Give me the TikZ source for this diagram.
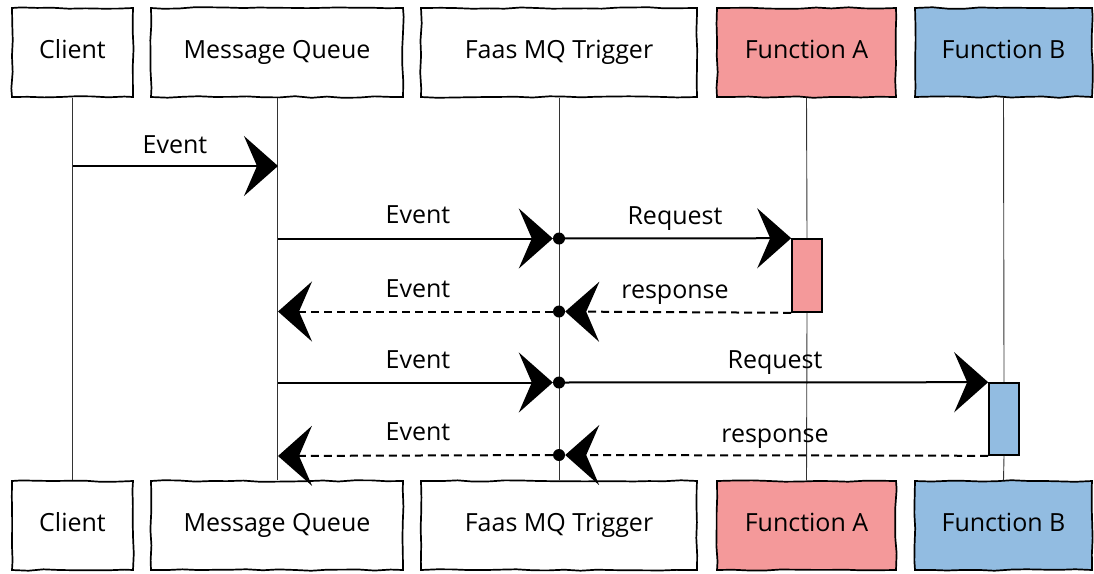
\documentclass[tikz,border=0pt]{standalone}
\usepackage{fontspec}
\setmainfont{Open Sans}
\usetikzlibrary{arrows.meta,decorations.pathmorphing}
\definecolor{funcA}{RGB}{244,153,154}
\definecolor{funcB}{RGB}{146,188,225}
\tikzset{
  sketch/.style={decorate, decoration={random steps, segment length=16pt, amplitude=0.8pt}},
  part/.style={sketch, draw=black, line width=1.7pt, fill=white, minimum height=89pt,
    inner sep=0pt, font=\fontsize{25}{30}\selectfont, text height=18pt, text depth=6pt},
  life/.style={draw=black!80, line width=0.9pt},
  actbox/.style={draw=black, line width=1.6pt, minimum width=30pt, inner sep=0pt},
  hit/.style={circle, fill=black, inner sep=0pt, minimum size=12pt},
  msg/.style={line width=2pt, -{Stealth[length=34pt,width=60pt,inset=13pt]}},
  reply/.style={msg, dash pattern=on 8pt off 5pt},
  lbl/.style={font=\fontsize{25}{30}\selectfont, inner sep=0pt, text height=18pt, text depth=6pt},
}
\begin{document}
\begin{tikzpicture}[x=1pt,y=-1pt]
\pgfmathsetseed{7}
\useasboundingbox (0,0) rectangle (1094,573);

% participants, top row
\node[part, minimum width=121pt] (clientT) at (72.5,52.5) {Client};
\node[part, minimum width=252pt] (mqT) at (277,52.5) {Message Queue};
\node[part, minimum width=276pt] (trT) at (559,52.5) {Faas MQ Trigger};
\node[part, minimum width=179pt, fill=funcA] (faT) at (806.5,52.5) {Function A};
\node[part, minimum width=177pt, fill=funcB] (fbT) at (1003.5,52.5) {Function B};

% participants, bottom row
\node[part, minimum width=121pt] (clientB) at (72.5,525.5) {Client};
\node[part, minimum width=252pt] (mqB) at (277,525.5) {Message Queue};
\node[part, minimum width=276pt] (trB) at (559,525.5) {Faas MQ Trigger};
\node[part, minimum width=179pt, fill=funcA] (faB) at (806.5,525.5) {Function A};
\node[part, minimum width=177pt, fill=funcB] (fbB) at (1003.5,525.5) {Function B};

% activations
\node[actbox, fill=funcA, minimum height=73pt] (actA) at (807,275.5) {};
\node[actbox, fill=funcB, minimum height=72pt] (actB) at (1004,419) {};

% lifelines
\draw[life] (clientT.south) -- (clientB.north);
\draw[life] (mqT.south) -- (mqB.north);
\draw[life] (trT.south) -- (trB.north);
\draw[life] (faT.south) -- (actA.north);
\draw[life] (actA.south) -- (faB.north);
\draw[life] (fbT.south) -- (actB.north);
\draw[life] (actB.south) -- (fbB.north);

% message anchors on the lifelines
\coordinate (c1) at (73,166);
\coordinate (q1) at (278,166);
\coordinate (q2) at (278,238.5);
\coordinate (q4) at (278,311.5);
\coordinate (q6) at (278,382.5);
\coordinate (q8) at (278,456);
\node[hit] (h1) at (559,238.5) {};
\node[hit] (h2) at (559,311.5) {};
\node[hit] (h3) at (559,382.5) {};
\node[hit] (h4) at (559,455) {};

% messages
\draw[msg] (c1) -- (q1);
\draw[msg] (q2) -- (h1);
\draw[msg] (h1) -- (actA.north west);
\draw[reply] (actA.south west) -- (h2);
\draw[reply] (h2) -- (q4);
\draw[msg] (q6) -- (h3);
\draw[msg] (h3) -- (actB.north west);
\draw[reply] (actB.south west) -- (h4);
\draw[reply] (h4) -- (q8);

% message labels
\node[lbl] (l1) at (175,147) {Event};
\node[lbl] (l2) at (418,217) {Event};
\node[lbl] (l3) at (675,218) {Request};
\node[lbl] (l4) at (418,291) {Event};
\node[lbl] (l5) at (675,292) {response};
\node[lbl] (l6) at (418,362) {Event};
\node[lbl] (l7) at (775,362) {Request};
\node[lbl] (l8) at (418,434) {Event};
\node[lbl] (l9) at (775,436) {response};
\end{tikzpicture}
\end{document}
